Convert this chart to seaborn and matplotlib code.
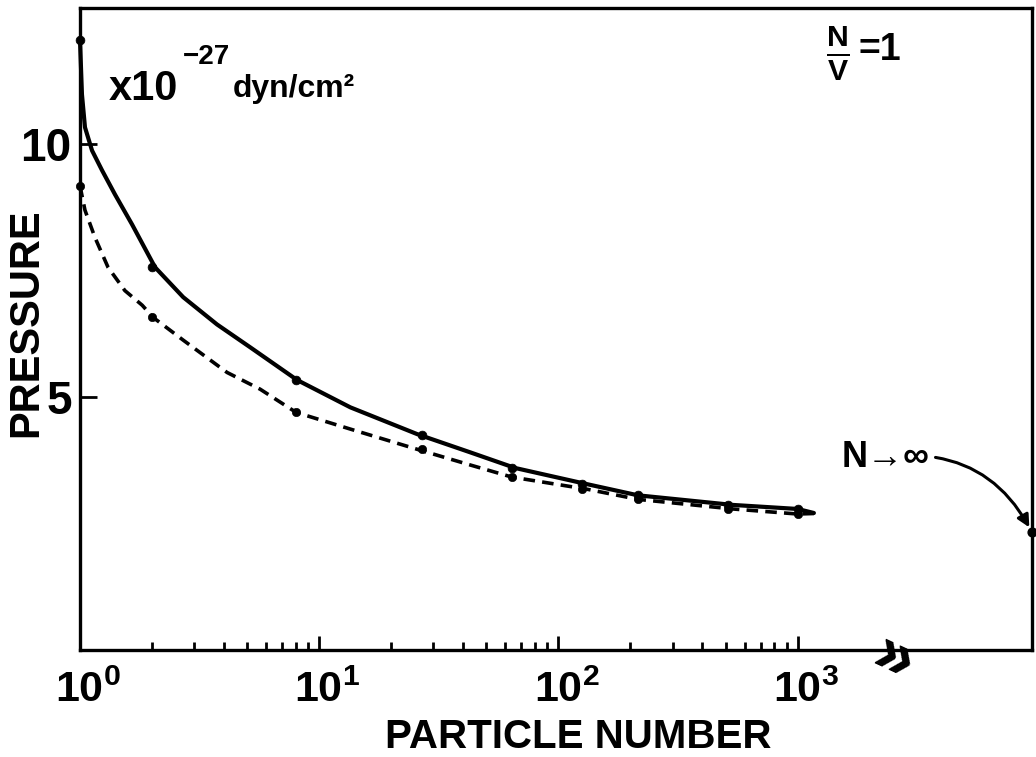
import numpy as np
import pandas as pd
import matplotlib
matplotlib.use("Agg")
import matplotlib.pyplot as plt
import matplotlib.transforms as mtransforms
import seaborn as sns

# ---------------- data ----------------
N_points = [1, 2, 8, 27, 64, 125, 216, 512, 1000]
solid_points = [12.06, 7.57, 5.34, 4.25, 3.60, 3.28, 3.06, 2.87, 2.79]
dashed_points = [9.18, 6.58, 4.70, 3.97, 3.42, 3.18, 2.98, 2.79, 2.69]

# curve traces
solid_curve_N = [1.0, 1.019, 1.049, 1.123, 1.236, 1.401, 1.65, 2.06, 2.70, 3.74,
                 5.14, 8.09, 13.5, 25.7, 42.8, 66, 132, 215, 535, 1000, 1170]
solid_curve_P = [12.06, 10.99, 10.34, 9.88, 9.49, 9.01, 8.42, 7.57, 6.98, 6.44,
                 5.99, 5.34, 4.80, 4.27, 3.91, 3.60, 3.28, 3.06, 2.87, 2.79, 2.71]
dashed_curve_N = [1.0, 1.049, 1.155, 1.31, 1.54, 1.82, 2.02, 2.70, 4.12, 5.66,
                  8.01, 13.5, 25.7, 42.8, 64, 132, 215, 535, 1000, 1170]
dashed_curve_P = [9.18, 8.70, 8.16, 7.57, 7.11, 6.82, 6.58, 6.13, 5.49, 5.16,
                  4.70, 4.37, 3.97, 3.66, 3.42, 3.18, 2.98, 2.79, 2.69, 2.70]

P_infinite = 2.33
x_tick_vals = [1, 10, 100, 1000]
x_tick_labels = [r"$\mathbf{10^{0}}$", r"$\mathbf{10^{1}}$", r"$\mathbf{10^{2}}$", r"$\mathbf{10^{3}}$"]
y_tick_vals = [5, 10]
y_tick_labels = ["5", "10"]

# ---------------- style ----------------
sns.set_style("ticks")
FONT = ["Liberation Sans", "DejaVu Sans"]
plt.rcParams["font.family"] = FONT
plt.rcParams["mathtext.fontset"] = "custom"
plt.rcParams["mathtext.rm"] = "Liberation Sans"
plt.rcParams["mathtext.bf"] = "Liberation Sans:bold"
plt.rcParams["mathtext.it"] = "Liberation Sans"
plt.rcParams["mathtext.sf"] = "Liberation Sans"
for k in ["text.color", "axes.labelcolor", "axes.edgecolor", "xtick.color", "ytick.color"]:
    plt.rcParams[k] = "black"

fig = plt.figure(figsize=(10.36, 7.57), dpi=100)
ax = fig.add_axes([80 / 1036, 1 - 650 / 757, 952 / 1036, 642 / 757])

solid_df = pd.DataFrame({"N": solid_curve_N, "P": solid_curve_P})
dashed_df = pd.DataFrame({"N": dashed_curve_N, "P": dashed_curve_P})
pts_solid = pd.DataFrame({"N": N_points, "P": solid_points})
pts_dashed = pd.DataFrame({"N": N_points, "P": dashed_points})

sns.lineplot(data=solid_df, x="N", y="P", ax=ax, color="black", lw=3.0,
             estimator=None, sort=False, clip_on=False)
sns.lineplot(data=dashed_df, x="N", y="P", ax=ax, color="black", lw=2.6,
             estimator=None, sort=False, clip_on=False)
ax.lines[-1].set_dashes([3.2, 2.0])
sns.scatterplot(data=pts_solid, x="N", y="P", ax=ax, color="black", s=40,
                marker="o", edgecolor="black", zorder=5, clip_on=False)
sns.scatterplot(data=pts_dashed, x="N", y="P", ax=ax, color="black", s=36,
                marker="o", edgecolor="black", zorder=5, clip_on=False)

ax.set_xscale("log")
ax.set_xlim(1, 10 ** 3.98)
ax.set_ylim(0, 12.7)

# N -> infinity point at the right edge
x_right = ax.get_xlim()[1]
ax.scatter([x_right], [P_infinite], s=40, color="black", zorder=6, clip_on=False)

# ticks
ax.set_xticks(x_tick_vals)
ax.set_xticklabels(x_tick_labels)
minor = [m * 10 ** d for d in range(3) for m in range(2, 10)]
ax.set_xticks(minor, minor=True)
ax.set_xticklabels([], minor=True)
ax.set_yticks(y_tick_vals)
ax.set_yticklabels(y_tick_labels, fontweight="bold")
ax.tick_params(axis="x", which="major", direction="in", length=10, width=2,
               labelsize=31, pad=15)
ax.tick_params(axis="x", which="minor", direction="in", length=6, width=2)
ax.tick_params(axis="y", which="major", direction="in", length=12, width=2,
               labelsize=33, pad=6)
shift = mtransforms.ScaledTranslation(8 / 100, 0, fig.dpi_scale_trans)
for lab in ax.get_xticklabels():
    lab.set_transform(lab.get_transform() + shift)

for s in ax.spines.values():
    s.set_linewidth(2.4)
    s.set_visible(True)
    s.set_color("black")

# axis labels
ax.set_xlabel("PARTICLE NUMBER", fontsize=29, fontweight="bold")
ax.xaxis.set_label_coords(0.523, -0.135)
ax.xaxis.label.set_va("center")
ax.set_ylabel("PRESSURE", fontsize=30, fontweight="bold")
ax.yaxis.set_label_coords(-0.056, 0.51)
ax.yaxis.label.set_va("center")

# annotations
ax.text(0.030, 0.857, "x10", transform=ax.transAxes, fontsize=30,
        fontweight="bold", ha="left", va="baseline")
ax.text(0.108, 0.912, "\u221227", transform=ax.transAxes, fontsize=20,
        fontweight="bold", ha="left", va="baseline")
ax.text(0.160, 0.862, "dyn/cm\u00b2", transform=ax.transAxes, fontsize=23,
        fontweight="bold", ha="left", va="baseline")
ax.text(0.796, 0.928, r"$\mathbf{\frac{N}{V}}$", transform=ax.transAxes,
        fontsize=31, ha="center", va="center")
ax.text(0.818, 0.935, "=1", transform=ax.transAxes, fontsize=27,
        fontweight="bold", ha="left", va="center")

ax.annotate("N\u2192\u221e", xy=(x_right, P_infinite), xycoords="data",
            xytext=(0.80, 0.30), textcoords="axes fraction",
            fontsize=26, fontweight="bold", ha="left", va="center",
            family=["Liberation Sans", "DejaVu Sans"],
            arrowprops=dict(arrowstyle="-|>", color="black", lw=2.2,
                            mutation_scale=18, shrinkA=2, shrinkB=4,
                            connectionstyle="arc3,rad=-0.35"))

# axis break symbol
ax.text(0.855, -0.015, "\u00bb", transform=ax.transAxes, fontsize=50,
        fontweight="bold", ha="center", va="center", rotation=-25)

fig.savefig("out.png", dpi=100)
